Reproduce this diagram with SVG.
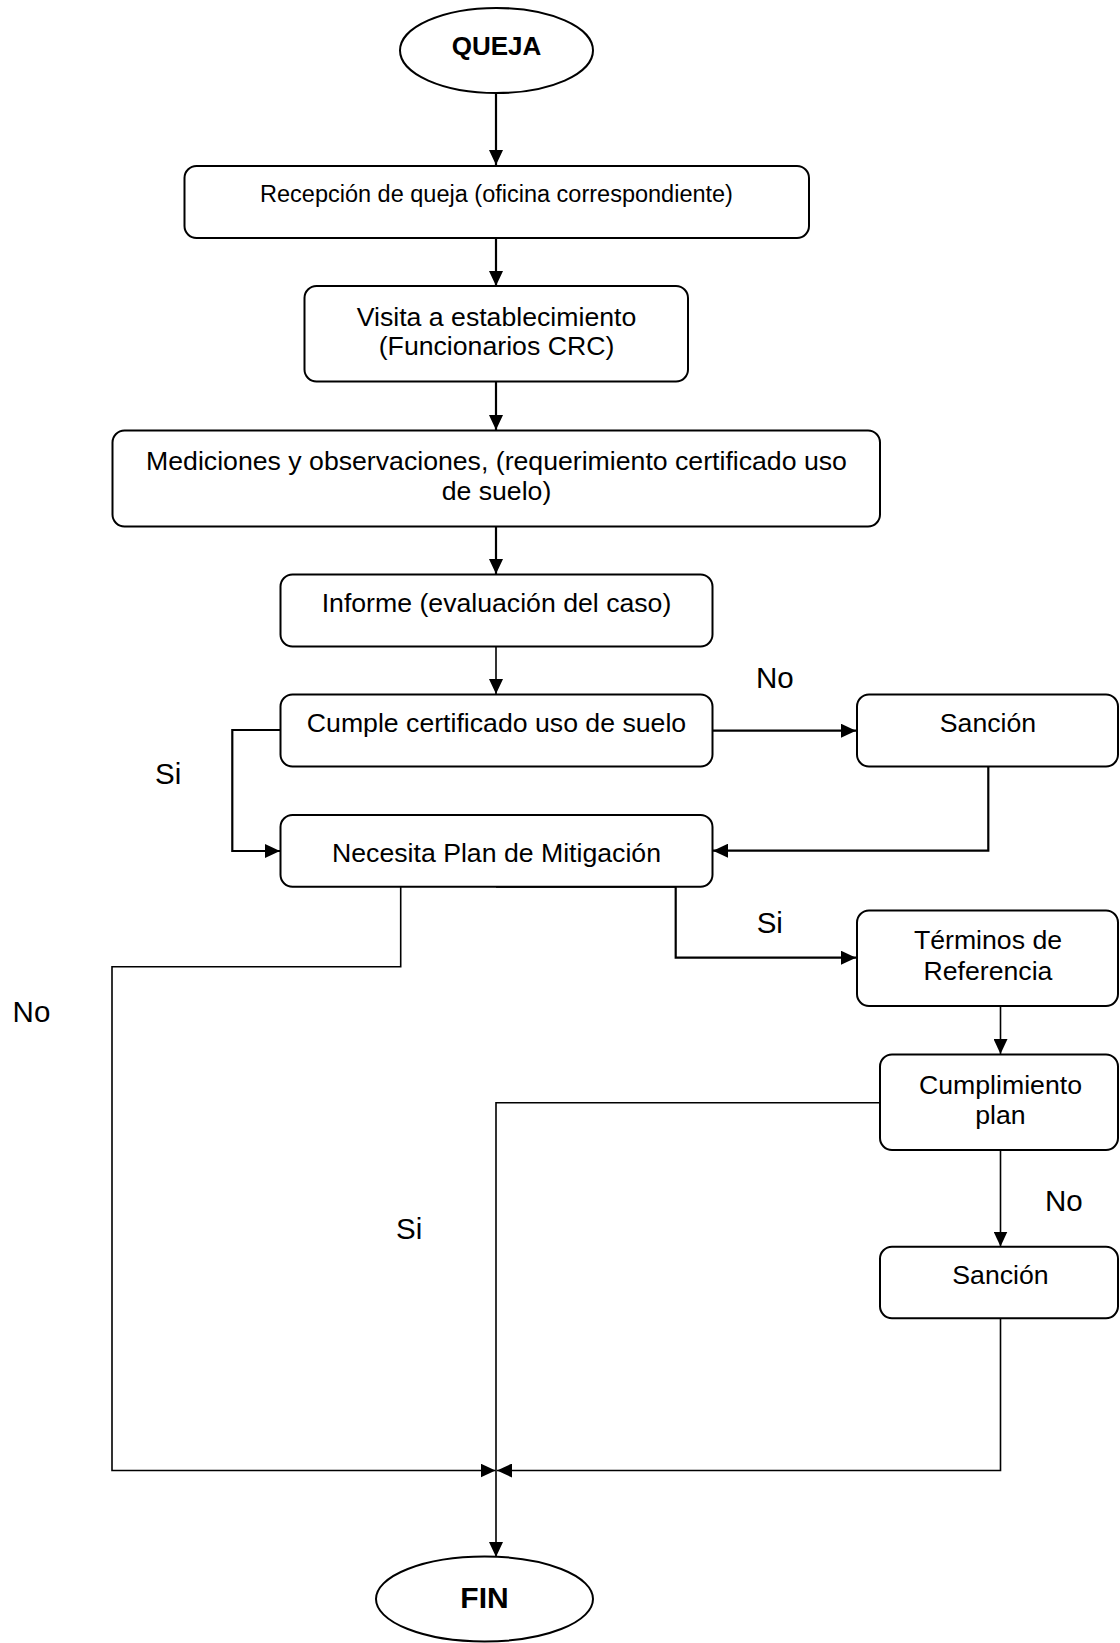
<svg xmlns="http://www.w3.org/2000/svg" width="1120" height="1643" viewBox="0 0 1120 1643">
<style>
  .box { fill: #ffffff; stroke: #000000; stroke-width: 2; }
  .ell { fill: #ffffff; stroke: #000000; stroke-width: 2; }
  .t { font-family: "Liberation Sans", Arial, sans-serif; font-size: 26.67px; fill: #000000; text-anchor: middle; }
  .ts { font-family: "Liberation Sans", Arial, sans-serif; font-size: 23.5px; fill: #000000; text-anchor: middle; }
  .tb { font-family: "Liberation Sans", Arial, sans-serif; font-weight: bold; fill: #000000; text-anchor: middle; }
  .lbl { font-family: "Liberation Sans", Arial, sans-serif; font-size: 29.5px; fill: #000000; }
  .c { fill: none; stroke: #000000; stroke-width: 2.2; }
  .ct { fill: none; stroke: #000000; stroke-width: 1.6; }
</style>
<defs>
  <marker id="ah" viewBox="0 0 15 14" refX="15" refY="7" markerWidth="15" markerHeight="14" markerUnits="userSpaceOnUse" orient="auto">
    <path d="M0,0 L15,7 L0,14 Z" fill="#000000"/>
  </marker>
</defs>
<rect width="1120" height="1643" fill="#ffffff"/>

<g id="connectors">
  <path class="c" d="M496,93 V165" marker-end="url(#ah)"/>
  <path class="c" d="M496,238 V286" marker-end="url(#ah)"/>
  <path class="c" d="M496,382 V430" marker-end="url(#ah)"/>
  <path class="c" d="M496,527 V574" marker-end="url(#ah)"/>
  <path class="ct" d="M496,647 V694" marker-end="url(#ah)"/>
  <path class="c" d="M713,730.7 H856" marker-end="url(#ah)"/>
  <path class="c" d="M280,730 H232.3 V851 H280" marker-end="url(#ah)"/>
  <path class="c" d="M988.3,767 V850.7 H713" marker-end="url(#ah)"/>
  <path class="c" d="M496,886.7 H675.7 V957.7 H856" marker-end="url(#ah)"/>
  <path class="ct" d="M400.7,887 V966.7 H112 V1470.5 H495.5" marker-end="url(#ah)"/>
  <path class="ct" d="M1000.5,1006 V1054" marker-end="url(#ah)"/>
  <path class="ct" d="M880,1102.7 H496 V1557" marker-end="url(#ah)"/>
  <path class="ct" d="M1000.5,1150 V1246.5" marker-end="url(#ah)"/>
  <path class="ct" d="M1000.5,1318.5 V1470.5 H497" marker-end="url(#ah)"/>
</g>

<g id="queja">
  <ellipse class="ell" cx="496.5" cy="50.5" rx="96.5" ry="42.5"/>
  <text class="tb" x="496.5" y="55" font-size="26px">QUEJA</text>
</g>

<g id="recepcion">
  <rect class="box" x="184.5" y="166" width="624.5" height="72" rx="12"/>
  <text class="ts" x="496.5" y="201.7">Recepción de queja (oficina correspondiente)</text>
</g>

<g id="visita">
  <rect class="box" x="304.5" y="286" width="383.5" height="95.5" rx="12"/>
  <text class="t" x="496.5" y="325.7">Visita a establecimiento</text>
  <text class="t" x="496.5" y="354.5">(Funcionarios CRC)</text>
</g>

<g id="mediciones">
  <rect class="box" x="112.5" y="430.5" width="767.5" height="96" rx="12"/>
  <text class="t" x="496.5" y="470">Mediciones y observaciones, (requerimiento certificado uso</text>
  <text class="t" x="496.5" y="500">de suelo)</text>
</g>

<g id="informe">
  <rect class="box" x="280.5" y="574.5" width="432" height="72" rx="12"/>
  <text class="t" x="496.5" y="611.7">Informe (evaluación del caso)</text>
</g>

<g id="cumple">
  <rect class="box" x="280.5" y="694.5" width="432" height="72" rx="12"/>
  <text class="t" x="496.5" y="731.7">Cumple certificado uso de suelo</text>
</g>

<g id="sancion1">
  <rect class="box" x="857" y="694.5" width="261" height="72" rx="12"/>
  <text class="t" x="988" y="731.7">Sanción</text>
</g>

<g id="necesita">
  <rect class="box" x="280.5" y="815" width="432" height="71.7" rx="12"/>
  <text class="t" x="496.5" y="861.7">Necesita Plan de Mitigación</text>
</g>

<g id="terminos">
  <rect class="box" x="857" y="910.5" width="261" height="95.5" rx="12"/>
  <text class="t" x="988" y="949">Términos de</text>
  <text class="t" x="988" y="980">Referencia</text>
</g>

<g id="cumplimiento">
  <rect class="box" x="880" y="1054.5" width="238" height="95.5" rx="12"/>
  <text class="t" x="1000.5" y="1094.3">Cumplimiento</text>
  <text class="t" x="1000.5" y="1124">plan</text>
</g>

<g id="sancion2">
  <rect class="box" x="880" y="1246.8" width="238" height="71.5" rx="12"/>
  <text class="t" x="1000.5" y="1284.3">Sanción</text>
</g>

<g id="fin">
  <ellipse class="ell" cx="484.5" cy="1599" rx="108.5" ry="42.5"/>
  <text class="tb" x="484.5" y="1608.3" font-size="30px">FIN</text>
</g>

<g id="labels">
  <text class="lbl" x="756" y="687.5">No</text>
  <text class="lbl" x="155" y="783.7">Si</text>
  <text class="lbl" x="756.7" y="933">Si</text>
  <text class="lbl" x="12.6" y="1021.5">No</text>
  <text class="lbl" x="396" y="1239.4">Si</text>
  <text class="lbl" x="1045" y="1210.7">No</text>
</g>
</svg>
